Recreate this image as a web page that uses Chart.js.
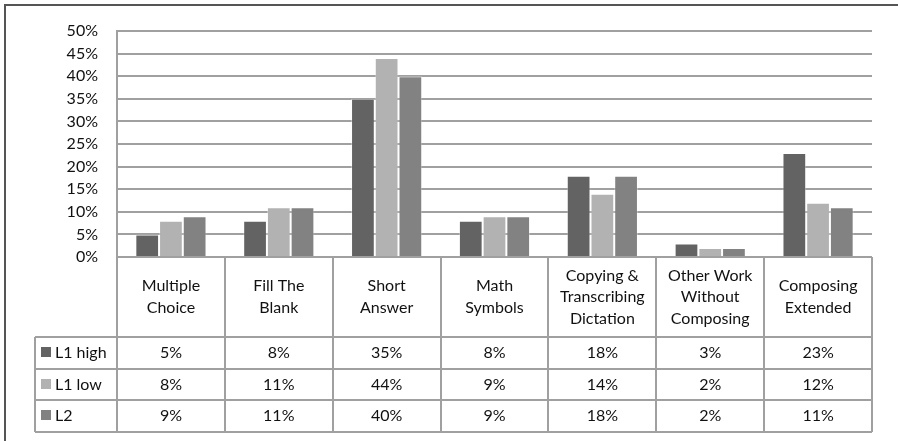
<!DOCTYPE html>
<html>
<head>
    <title>Task types by group</title>
    <script src="https://cdn.jsdelivr.net/npm/chart.js"></script>
    <style>
        html, body { margin: 0; padding: 0; background: #fff; }
        .chart-container { width: 898px; height: 441px; position: relative; }
    </style>
</head>
<body>
    <div class="chart-container">
        <canvas id="tableChart"></canvas>
    </div>

    <script>
        // data
        const categories = [
            ['Multiple', 'Choice'],
            ['Fill The', 'Blank'],
            ['Short', 'Answer'],
            ['Math', 'Symbols'],
            ['Copying &', 'Transcribing', 'Dictation'],
            ['Other Work', 'Without', 'Composing'],
            ['Composing', 'Extended']
        ];
        const seriesNames = ['L1 high', 'L1 low', 'L2'];
        const l1High = [5, 8, 35, 8, 18, 3, 23];
        const l1Low = [8, 11, 44, 9, 14, 2, 12];
        const l2 = [9, 11, 40, 9, 18, 2, 11];
        const yTicks = [0, 5, 10, 15, 20, 25, 30, 35, 40, 45, 50];

        const colors = ['#636363', '#b2b2b2', '#828282'];
        const lineColor = '#a0a0a0';
        const textColor = '#111';
        const font = 'Lato, "Open Sans", sans-serif';

        // draws the data table under the plot + the outer frame
        const dataTablePlugin = {
            id: 'dataTable',
            afterDraw(chart) {
                const c = chart.ctx;
                const x = chart.scales.x;
                const area = chart.chartArea;
                const colW = (area.right - area.left) / categories.length;
                const headTop = area.bottom;
                const headBottom = 337;
                const rowH = 31.7;
                const tableLeft = 35;
                const tableBottom = headBottom + rowH * seriesNames.length;

                c.save();
                c.strokeStyle = lineColor;
                c.lineWidth = 2;

                // vertical lines
                c.beginPath();
                for (let i = 0; i <= categories.length; i++) {
                    const px = Math.round(area.left + colW * i);
                    c.moveTo(px, headTop);
                    c.lineTo(px, tableBottom);
                }
                c.moveTo(tableLeft, headBottom);
                c.lineTo(tableLeft, tableBottom);
                // horizontal lines
                for (let r = 0; r <= seriesNames.length; r++) {
                    const py = Math.round(headBottom + rowH * r);
                    c.moveTo(tableLeft, py);
                    c.lineTo(area.right, py);
                }
                c.stroke();

                c.fillStyle = textColor;
                c.font = '16px ' + font;
                c.textAlign = 'center';
                c.textBaseline = 'middle';

                // header labels
                const lineH = 21.5;
                categories.forEach((lines, i) => {
                    const cx = x.getPixelForValue(i);
                    const midY = (headTop + headBottom) / 2;
                    const startY = midY - (lines.length - 1) * lineH / 2;
                    lines.forEach((t, j) => c.fillText(t, cx, startY + j * lineH));
                });

                // value rows
                const rows = [l1High, l1Low, l2];
                rows.forEach((vals, r) => {
                    const cy = headBottom + rowH * r + rowH / 2;
                    vals.forEach((v, i) => {
                        c.fillText(v + '%', x.getPixelForValue(i), cy);
                    });
                    // legend key
                    c.fillStyle = colors[r];
                    c.fillRect(41, Math.round(cy - 6), 10, 10);
                    c.fillStyle = textColor;
                    c.textAlign = 'left';
                    c.fillText(seriesNames[r], 55, cy);
                    c.textAlign = 'center';
                });

                // outer frame (top + left edges)
                c.strokeStyle = '#555';
                c.lineWidth = 2;
                c.beginPath();
                c.moveTo(5, chart.height);
                c.lineTo(5, 5);
                c.lineTo(chart.width, 5);
                c.stroke();
                c.restore();
            }
        };

        const ctx = document.getElementById('tableChart').getContext('2d');
        const chart = new Chart(ctx, {
            type: 'bar',
            data: {
                labels: categories,
                datasets: [
                    { label: seriesNames[0], data: l1High, backgroundColor: colors[0] },
                    { label: seriesNames[1], data: l1Low, backgroundColor: colors[1] },
                    { label: seriesNames[2], data: l2, backgroundColor: colors[2] }
                ].map(d => Object.assign(d, {
                    borderColor: 'rgba(255,255,255,0.35)',
                    borderWidth: 1,
                    categoryPercentage: 0.66,
                    barPercentage: 1
                }))
            },
            options: {
                responsive: true,
                maintainAspectRatio: false,
                animation: false,
                layout: {
                    padding: { top: 31, right: 26, bottom: 184, left: 0 }
                },
                plugins: {
                    legend: { display: false },
                    tooltip: { enabled: false }
                },
                scales: {
                    x: { display: false },
                    y: {
                        min: 0,
                        max: 50,
                        afterFit(scale) { scale.width = 117; },
                        afterBuildTicks(scale) {
                            scale.ticks = yTicks.map(v => ({ value: v }));
                        },
                        ticks: {
                            padding: 19,
                            color: textColor,
                            font: { family: font, size: 16 },
                            callback: v => v + '%'
                        },
                        grid: {
                            color: lineColor,
                            lineWidth: 2,
                            drawTicks: false
                        },
                        border: { display: true, color: lineColor, width: 2 }
                    }
                }
            },
            plugins: [dataTablePlugin]
        });
    </script>
</body>
</html>
